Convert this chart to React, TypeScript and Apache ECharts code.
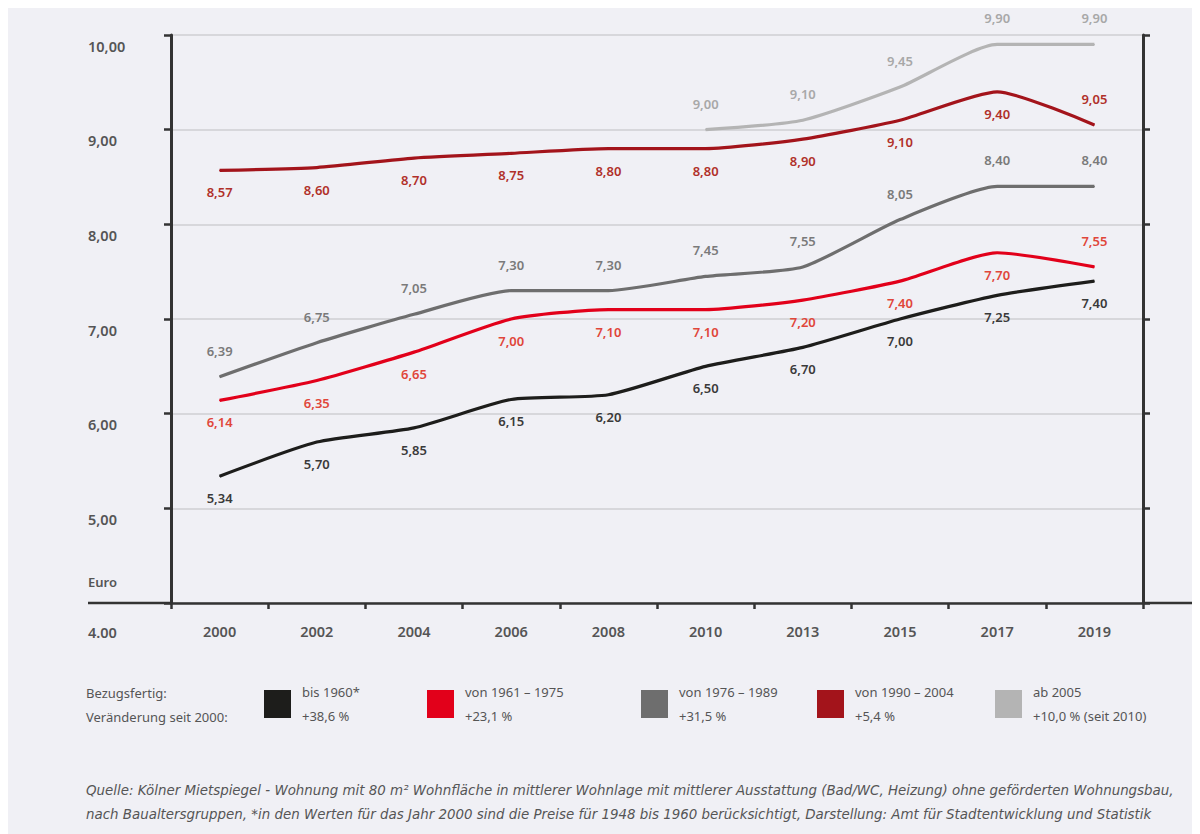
import React, { useEffect, useRef } from "react";
import * as echarts from "echarts";

const years = ["2000", "2002", "2004", "2006", "2008", "2010", "2013", "2015", "2017", "2019"];
const bis1960 = [5.34, 5.7, 5.85, 6.15, 6.2, 6.5, 6.7, 7.0, 7.25, 7.4];
const von1961 = [6.14, 6.35, 6.65, 7.0, 7.1, 7.1, 7.2, 7.4, 7.7, 7.55];
const von1976 = [6.39, 6.75, 7.05, 7.3, 7.3, 7.45, 7.55, 8.05, 8.4, 8.4];
const von1990 = [8.57, 8.6, 8.7, 8.75, 8.8, 8.8, 8.9, 9.1, 9.4, 9.05];
const ab2005 = [null, null, null, null, null, 9.0, 9.1, 9.45, 9.9, 9.9];

const seriesNames = ["bis 1960*", "von 1961 – 1975", "von 1976 – 1989", "von 1990 – 2004", "ab 2005"];
const changes = ["+38,6 %", "+23,1 %", "+31,5 %", "+5,4 %", "+10,0 % (seit 2010)"];
const yMin = 4;
const yMax = 10;
const yStep = 1;

const FONT = "'Noto Sans', 'Open Sans', sans-serif";
const fmt = (v: number) => v.toFixed(2).replace(".", ",");

export default function App() {
  const ref = useRef<HTMLDivElement>(null);
  useEffect(() => {
    if (!ref.current) return;
    const chart = echarts.init(ref.current, null, { renderer: "svg" });

    const defs = [
      { data: bis1960, color: "#1d1d1b", labelColor: "#3a3a3a", pos: "bottom", above: [] as number[] },
      { data: von1961, color: "#e2001a", labelColor: "#e0463a", pos: "bottom", above: [9] },
      { data: von1976, color: "#6e6e6e", labelColor: "#7a7a7a", pos: "top", above: [] as number[] },
      { data: von1990, color: "#a3141b", labelColor: "#b0302a", pos: "bottom", above: [9] },
      { data: ab2005, color: "#b4b4b4", labelColor: "#a8a8a8", pos: "top", above: [] as number[] },
    ];
    const legendLefts = [264, 427, 641, 817, 995];

    const series = defs.map((d, i) => ({
      name: seriesNames[i],
      type: "line",
      smooth: 0.2,
      symbol: "circle",
      symbolSize: 1,
      itemStyle: { color: d.color },
      lineStyle: { color: d.color, width: 3.2 },
      label: {
        show: true,
        position: d.pos,
        distance: d.pos === "top" ? 19 : 15,
        color: d.labelColor,
        fontFamily: FONT,
        fontSize: 13,
        fontWeight: 600,
        formatter: (p: any) => (p.value == null ? "" : fmt(p.value)),
      },
      data: d.data.map((v, j) =>
        d.above.indexOf(j) >= 0 ? { value: v, label: { position: "top", distance: 19 } } : v
      ),
      z: 3,
    }));

    const legends = seriesNames.map((n, i) => ({
      data: [n],
      left: legendLefts[i],
      top: 670,
      padding: 0,
      icon: "rect",
      itemWidth: 27,
      itemHeight: 28,
      selectedMode: false,
      formatter: (name: string) => name + "\n" + changes[i],
      textStyle: {
        fontFamily: FONT,
        fontSize: 13,
        lineHeight: 24,
        color: "#555",
        padding: [4, 0, 0, 6],
      },
    }));

    const txt = (text: string, x: number, y: number, extra: any = {}) => ({
      type: "text",
      x,
      y,
      style: {
        text,
        fill: "#555",
        font: `13px ${FONT}`,
        verticalAlign: "middle",
        ...extra,
      },
    });

    const NOTE_FONT = "italic 13.4px 'DejaVu Sans', sans-serif";

    chart.setOption({
      animation: false,
      backgroundColor: "#f0f0f5",
      grid: { left: 171, right: 57, top: 27, bottom: 231 },
      legend: legends,
      xAxis: {
        type: "category",
        data: years,
        boundaryGap: true,
        axisLine: { lineStyle: { color: "#333", width: 2.5 } },
        axisTick: { show: true, length: 6, interval: 0, lineStyle: { color: "#333", width: 2.5 } },
        axisLabel: { margin: 20, color: "#555", fontFamily: FONT, fontSize: 14.5, fontWeight: 600 },
      },
      yAxis: [
        {
          type: "value",
          min: yMin,
          max: yMax,
          interval: yStep,
          axisLine: { show: true, lineStyle: { color: "#333", width: 3 } },
          axisTick: { show: true, length: 7, lineStyle: { color: "#333", width: 2.5 } },
          splitLine: { show: true, lineStyle: { color: "#cfcfd2", width: 1.5 } },
          axisLabel: {
            margin: 83,
            align: "left",
            verticalAlign: "top",
            padding: [3, 0, 0, 0],
            color: "#555",
            fontFamily: FONT,
            fontSize: 14.5,
            fontWeight: 600,
            formatter: (v: number) => (v === yMin ? "" : fmt(v)),
          },
        },
        {
          type: "value",
          position: "right",
          min: yMin,
          max: yMax,
          interval: yStep,
          axisLine: { show: true, lineStyle: { color: "#333", width: 3 } },
          axisTick: { show: true, length: 7, lineStyle: { color: "#333", width: 2.5 } },
          splitLine: { show: false },
          axisLabel: { show: false },
        },
      ],
      series,
      graphic: [
        { type: "line", shape: { x1: 88, y1: 595, x2: 171, y2: 595 }, style: { stroke: "#333", lineWidth: 2.5 } },
        { type: "line", shape: { x1: 1143, y1: 595, x2: 1200, y2: 595 }, style: { stroke: "#333", lineWidth: 2.5 } },
        txt("Euro", 88, 574, { font: `600 13px ${FONT}` }),
        txt("4.00", 88, 624, { font: `600 14.5px ${FONT}` }),
        txt("Bezugsfertig:", 86, 685),
        txt("Veränderung seit 2000:", 86, 709),
        txt(
          "Quelle: Kölner Mietspiegel - Wohnung mit 80 m² Wohnfläche in mittlerer Wohnlage mit mittlerer Ausstattung (Bad/WC, Heizung) ohne geförderten Wohnungsbau,",
          86,
          782,
          { font: NOTE_FONT }
        ),
        txt(
          "nach Baualtersgruppen, *in den Werten für das Jahr 2000 sind die Preise für 1948 bis 1960 berücksichtigt, Darstellung: Amt für Stadtentwicklung und Statistik",
          86,
          806,
          { font: NOTE_FONT }
        ),
      ],
    });
    return () => chart.dispose();
  }, []);

  return <div ref={ref} style={{ width: 1200, height: 826, marginLeft: -8 }} />;
}
